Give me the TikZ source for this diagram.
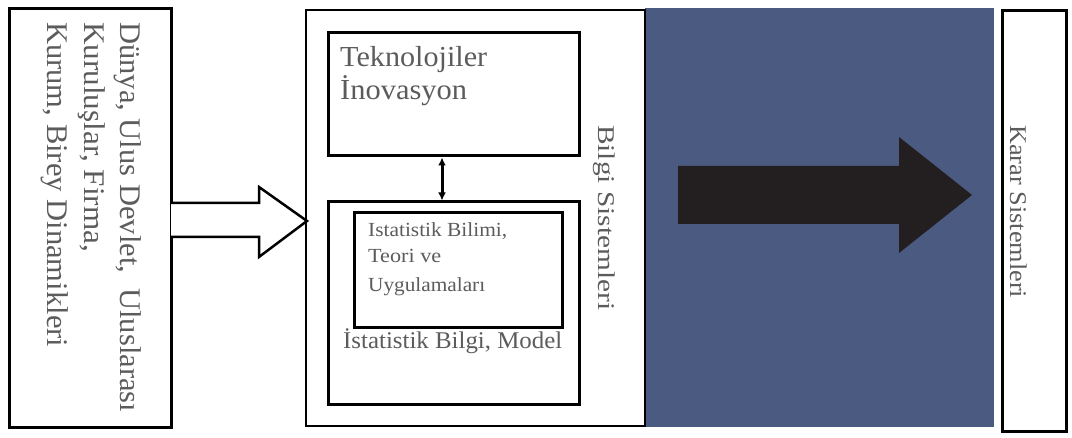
\documentclass[tikz,border=0pt]{standalone}
\usepackage{fontspec}
\usepackage{graphicx}
\setmainfont{Liberation Serif}
\usetikzlibrary{arrows.meta}
\definecolor{txt}{HTML}{5C5C5C}
\definecolor{slate}{HTML}{4A5A80}
\definecolor{arrowblk}{HTML}{231F20}
\newcommand{\fitw}[2]{\resizebox{#1}{\height}{#2}}
\tikzset{
  frame/.style={draw=black, line width=3pt, fill=white, inner sep=0pt},
  lbl/.style={text=txt, inner sep=0pt},
  vlbl/.style={lbl, rotate=-90, anchor=base west},
  hlbl/.style={lbl, anchor=base west},
}
\begin{document}
\begin{tikzpicture}[x=1pt,y=-1pt]
\useasboundingbox[fill=white] (0,0) rectangle (1072,438);
% blue panel
\fill[slate] (645,8) rectangle (994,427);
% boxes
\node[frame, minimum width=162pt, minimum height=419pt] (left) at (90,218.5) {};
\node[frame, line width=2pt, minimum width=339pt, minimum height=416pt] (bilgi) at (475.5,218) {};
\node[frame, minimum width=251pt, minimum height=123pt] (tek) at (453.5,94.5) {};
\node[frame, minimum width=251pt, minimum height=203pt] (stat) at (453.5,303.5) {};
\node[frame, minimum width=208pt, minimum height=115pt] (inner) at (458,270.5) {};
\node[frame, minimum width=64pt, minimum height=421pt] (karar) at (1034,221.5) {};
% hollow arrow
\draw[line width=2.5pt, fill=white, line join=miter]
  (171,203) -- (259,203) -- (259,187) -- (307,221) -- (259,257) -- (259,237) -- (171,237);
% black arrow
\fill[arrowblk] (678,166) -- (899,166) -- (899,137) -- (972,195) -- (899,253) -- (899,224) -- (678,224) -- cycle;
% double arrow
\draw[line width=3pt, {Latex[length=8pt,width=8pt]}-{Latex[length=8pt,width=8pt]}]
  (tek.south -| 442,0) -- (stat.north -| 442,0);
% left text
\node[vlbl, font=\fontsize{30}{34}\selectfont] (l1) at (120,22) {\fitw{390pt}{Dünya, Ulus Devlet,\ \ Uluslarası}};
\node[vlbl, font=\fontsize{30}{34}\selectfont] (l2) at (84,22) {\fitw{230pt}{Kuruluşlar, Firma,}};
\node[vlbl, font=\fontsize{30}{34}\selectfont] (l3) at (48,22) {\fitw{325pt}{Kurum, Birey Dinamikleri}};
% tek text
\node[hlbl, font=\fontsize{29}{32}\selectfont] (t1) at (340,67) {\fitw{147pt}{Teknolojiler}};
\node[hlbl, font=\fontsize{29}{32}\selectfont] (t2) at (340,100) {\fitw{127pt}{İnovasyon}};
% inner text
\node[hlbl, font=\fontsize{20}{24}\selectfont] (i1) at (368,237) {\fitw{139pt}{Istatistik Bilimi,}};
\node[hlbl, font=\fontsize{20}{24}\selectfont] (i2) at (368,263) {\fitw{73pt}{Teori ve}};
\node[hlbl, font=\fontsize{20}{24}\selectfont] (i3) at (368,292) {\fitw{117pt}{Uygulamaları}};
\node[hlbl, font=\fontsize{24}{28}\selectfont] (s1) at (343,349) {\fitw{219pt}{İstatistik Bilgi, Model}};
% rotated labels
\node[vlbl, font=\fontsize{24}{28}\selectfont] (b1) at (598,125) {\fitw{185pt}{Bilgi Sistemleri}};
\node[vlbl, font=\fontsize{24}{28}\selectfont] (k1) at (1010,125) {\fitw{173pt}{Karar Sistemleri}};
\end{tikzpicture}
\end{document}
